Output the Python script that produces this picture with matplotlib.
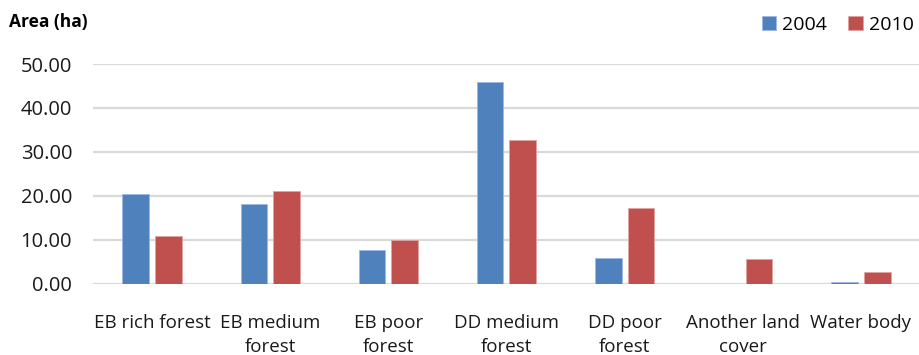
import matplotlib
matplotlib.use("Agg")
import matplotlib.pyplot as plt
import numpy as np

categories = ["EB rich forest", "EB medium\nforest", "EB poor\nforest", "DD medium\nforest",
              "DD poor\nforest", "Another land\ncover", "Water body"]
series_names = ["2004", "2010"]
values_2004 = [20.5, 18.2, 7.7, 46.0, 5.9, 0.0, 0.45]
values_2010 = [10.9, 21.0, 10.0, 32.8, 17.3, 5.5, 2.7]
yticks = [0, 10, 20, 30, 40, 50]

colors = ["#4F81BD", "#C0504D"]
plt.rcParams['font.family'] = ['Open Sans', 'DejaVu Sans']

fig = plt.figure(figsize=(9.2, 3.55), dpi=100)
ax = fig.add_axes([0.101, 0.2014, 0.899, 0.6183])

x = np.arange(len(categories))
w = 0.225
off = 0.138
ax.bar(x - off, values_2004, w, color=colors[0], edgecolor="#9DB9E0", linewidth=0.6, zorder=3, label=series_names[0])
ax.bar(x + off, values_2010, w, color=colors[1], edgecolor="#E0A3A1", linewidth=0.6, zorder=3, label=series_names[1])

ax.set_xlim(-0.5, len(categories) - 0.5)
ax.set_ylim(0, 50)
ax.set_yticks(yticks)
ax.set_yticklabels([f"{v:.2f}" for v in yticks], fontsize=14.5, color="#1a1a1a")
ax.set_xticks(x)
ax.set_xticklabels(categories, fontsize=13.5, color="#1a1a1a", linespacing=1.4)
ax.tick_params(axis='both', length=0)
ax.tick_params(axis='y', pad=15)
ax.tick_params(axis='x', pad=22)
ax.grid(axis='y', color="#D9D9D9", linewidth=1.6, zorder=0)
for s in ax.spines.values():
    s.set_visible(False)

fig.text(0.01, 0.937, "Area (ha)", fontsize=12.5, fontweight="bold", ha="left", va="center")

leg = fig.legend(loc="center right", bbox_to_anchor=(1.012, 0.93), ncol=2, frameon=False,
                 fontsize=14, handlelength=0.75, handleheight=0.75, handletextpad=0.3, columnspacing=1.1)

fig.savefig("out.png", dpi=100)
